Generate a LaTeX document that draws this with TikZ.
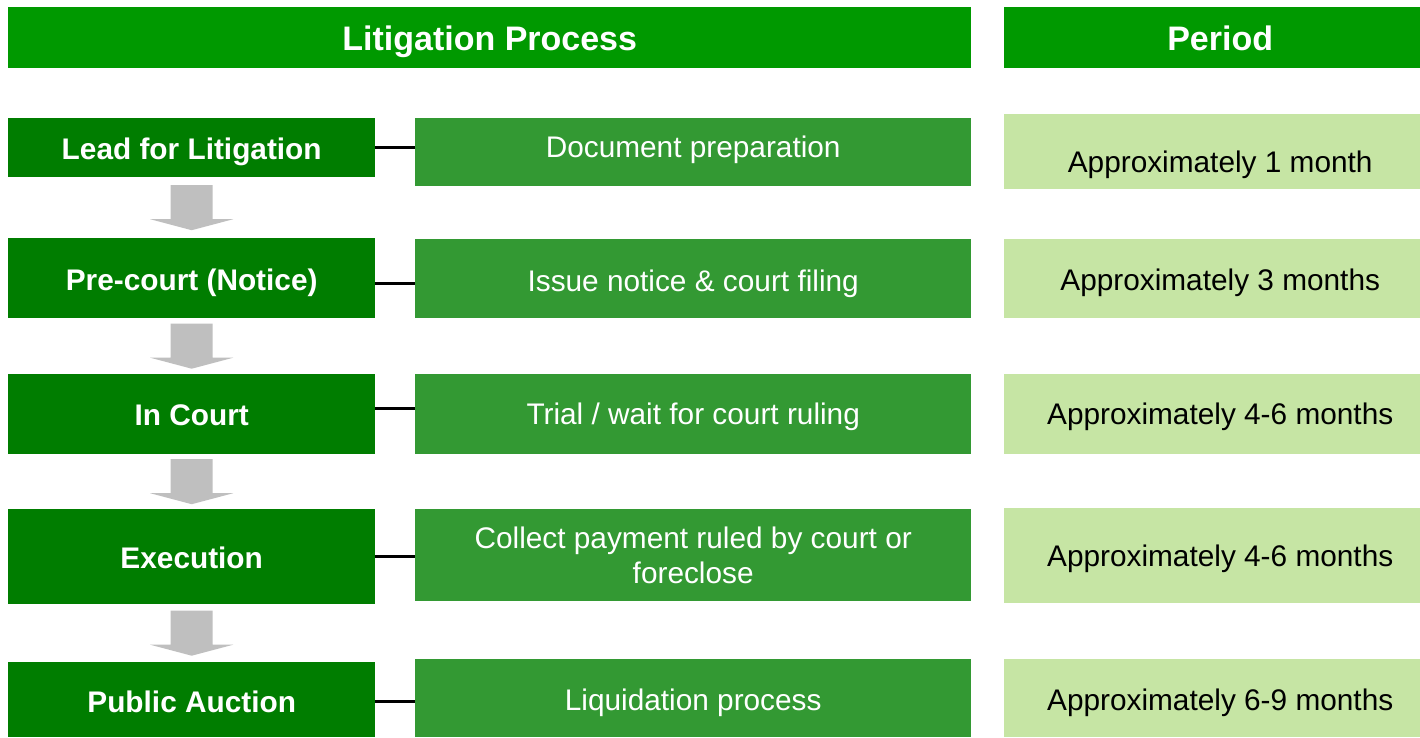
\documentclass[tikz,border=0pt]{standalone}
\usepackage{fontspec}
\setmainfont{Liberation Sans}
\usepackage{xcolor}
\usetikzlibrary{positioning,calc}
\definecolor{headgreen}{HTML}{009900}
\definecolor{stagegreen}{HTML}{007D00}
\definecolor{taskgreen}{HTML}{339933}
\definecolor{periodgreen}{HTML}{C6E5A4}
\definecolor{flowgray}{HTML}{BFBFBF}

% gray block arrow centred in the gap between two stages
\newcommand{\flowarrow}[2]{%
  \path ($(#1.south)!0.5!(#2.north)$) coordinate (fm);
  \fill[flow] ($(fm)+(-21,-22.5)$) -- ($(fm)+(21,-22.5)$) -- ($(fm)+(21,11.5)$)
    -- ($(fm)+(41.5,11.5)$) -- ($(fm)+(0,22.5)$) -- ($(fm)+(-41.5,11.5)$)
    -- ($(fm)+(-21,11.5)$) -- cycle;
}

\begin{document}
\begin{tikzpicture}[
        x=1pt, y=-1pt,
        box/.style={
          inner sep=0pt,
          anchor=north west,
          font=\fontsize{29.8}{35}\selectfont
        },
        oneline/.style={
          text height=25.4pt,
          text depth=1pt
        },
        head/.style={
          box,
          oneline,
          fill=headgreen,
          text=white,
          minimum height=61,
          text height=26.4pt,
          font=\bfseries\fontsize{34}{40}\selectfont
        },
        stage/.style={
          box,
          oneline,
          fill=stagegreen,
          text=white,
          minimum width=367,
          font=\bfseries\fontsize{29.8}{35}\selectfont
        },
        task/.style={
          box,
          fill=taskgreen,
          text=white,
          align=center,
          minimum width=556
        },
        period/.style={
          box,
          oneline,
          fill=periodgreen,
          text=black,
          minimum width=416,
          execute at begin node={\hspace*{16pt}}
        },
        link/.style={
          line width=3pt,
          black
        },
        flow/.style={
          fill=flowgray
        }
      ]

      \useasboundingbox (0,0) rectangle (1420,737);
      \fill[white] (0,0) rectangle (1420,737);

      % headers
      \node[head, minimum width=963] (process) at (8,7) {Litigation Process};
      \node[head, minimum width=416, execute at begin node={\hspace*{16pt}}] (period) at (1004,7) {Period};

      % stages
      \node[stage, minimum height=59] (lead) at (8,118) {Lead for Litigation};
      \node[stage, minimum height=80] (precourt) at (8,238) {Pre-court (Notice)};
      \node[stage, minimum height=80, text height=23.4pt] (court) at (8,374) {In Court};
      \node[stage, minimum height=95] (execution) at (8,509) {Execution};
      \node[stage, minimum height=75, text height=27.4pt] (auction) at (8,662) {Public Auction};

      % tasks
      \node[task, oneline, minimum height=68, text height=12.4pt] (docprep) at (415,118) {Document preparation};
      \node[task, oneline, minimum height=79, text height=27.4pt] (filing) at (415,239) {Issue notice \& court filing};
      \node[task, oneline, minimum height=80, text height=22.4pt] (trial) at (415,374) {Trial / wait for court ruling};
      \node[task, minimum height=92] (collect) at (415,509) {Collect payment ruled by court or\\foreclose};
      \node[task, oneline, minimum height=78, text height=26.4pt] (liquidation) at (415,659) {Liquidation process};

      % periods
      \node[period, minimum height=75, text height=43.4pt] (p1) at (1004,114) {Approximately 1 month};
      \node[period, minimum height=79] (p2) at (1004,239) {Approximately 3 months};
      \node[period, minimum height=80, text height=22.4pt] (p3) at (1004,374) {Approximately 4-6 months};
      \node[period, minimum height=95, text height=22.4pt] (p4) at (1004,508) {Approximately 4-6 months};
      \node[period, minimum height=78, text height=26.4pt] (p5) at (1004,659) {Approximately 6-9 months};

      % flow between stages
      \flowarrow{lead}{precourt}
      \flowarrow{precourt}{court}
      \flowarrow{court}{execution}
      \flowarrow{execution}{auction}

      % links stage -> task
      \draw[link] (lead.east) -- (lead.east -| docprep.west);
      \draw[link] ([yshift=-5pt]precourt.east) -- ([yshift=-5pt]precourt.east -| filing.west);
      \draw[link] ([yshift=6pt]court.east) -- ([yshift=6pt]court.east -| trial.west);
      \draw[link] (execution.east) -- (execution.east -| collect.west);
      \draw[link] ([yshift=-1.5pt]auction.east) -- ([yshift=-1.5pt]auction.east -| liquidation.west);

      \end{tikzpicture}
\end{document}
